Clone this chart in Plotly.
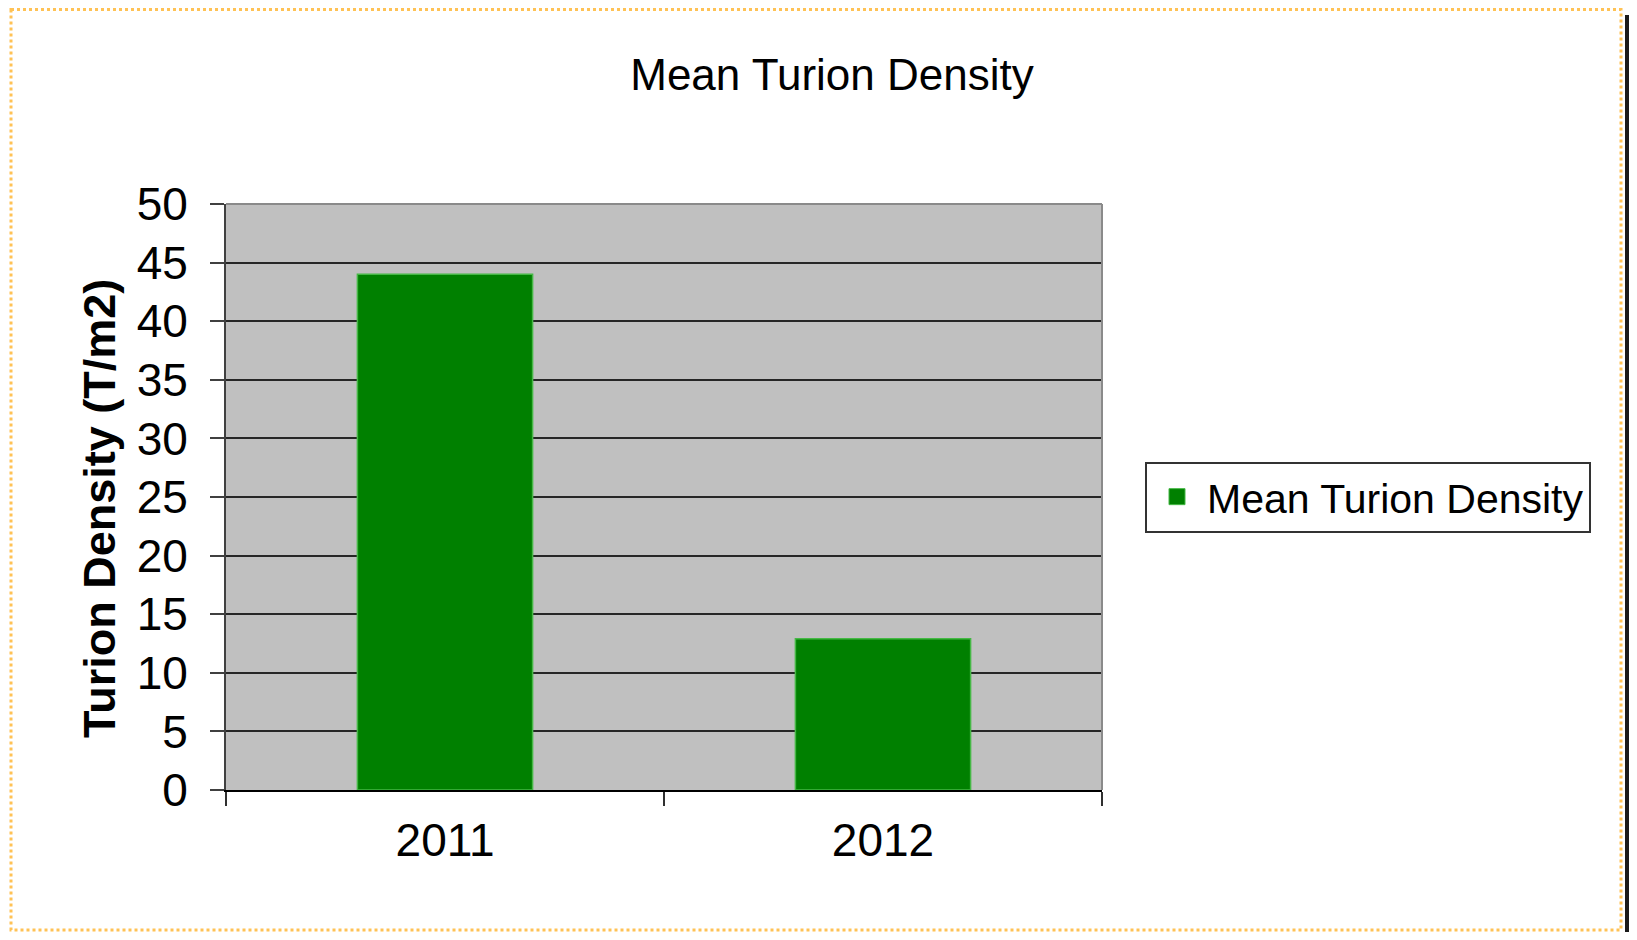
import plotly.graph_objects as go

years = ["2011", "2012"]
density = [44.0, 12.9]
series_name = "Mean Turion Density"
chart_title = "Mean Turion Density"
y_title = "Turion Density (T/m2)"
y_ticks = [0, 5, 10, 15, 20, 25, 30, 35, 40, 45, 50]

FONT = "Arial, Liberation Sans, sans-serif"
GREEN = "#008000"
EDGE = "#45b845"

# the page body adds an 8px margin on each side, so the figure fits inside it
W, H = 1621, 924
L, R, T, B = 218, 527, 196, 142
PW, PH = W - L - R, H - T - B


def px_x(px):
    return (px - L) / PW


def px_y(py):
    return (H - B - py) / PH


fig = go.Figure()
fig.add_trace(go.Bar(
    x=years, y=density, name=series_name, showlegend=False,
    marker=dict(color=GREEN, line=dict(color=EDGE, width=1.5)),
))
# legend entry with a larger square symbol
fig.add_trace(go.Scatter(
    x=[None], y=[None], mode="markers", name=series_name, showlegend=True,
    marker=dict(symbol="square", size=16, color=GREEN, line=dict(color=EDGE, width=1)),
))

shapes = [
    dict(type="line", xref="paper", yref="paper", x0=0, x1=1, y0=1, y1=1,
         line=dict(color="#8a8a8a", width=2), layer="above"),
    dict(type="line", xref="paper", yref="paper", x0=1, x1=1, y0=0, y1=1,
         line=dict(color="#8a8a8a", width=2), layer="above"),
    dict(type="rect", xref="paper", yref="paper",
         x0=px_x(3), x1=px_x(1613), y0=px_y(1.5), y1=px_y(922),
         line=dict(color="#FFC255", width=3, dash="dot"), layer="above"),
    dict(type="line", xref="paper", yref="paper",
         x0=px_x(1619), x1=px_x(1619), y0=px_y(7), y1=px_y(924),
         line=dict(color="#1a1a1a", width=4), layer="above"),
]

fig.update_layout(
    width=W, height=H,
    margin=dict(l=L, r=R, t=T, b=B, pad=0),
    paper_bgcolor="white",
    plot_bgcolor="#C0C0C0",
    font=dict(family=FONT, color="black"),
    title=dict(text=chart_title, x=824 / W, xref="container", xanchor="center",
               y=1 - 67 / H, yref="container", yanchor="middle",
               font=dict(size=44, family=FONT, color="black")),
    bargap=0.6,
    showlegend=True,
    legend=dict(x=px_x(1137), xanchor="left", y=0.5, yanchor="middle",
                bgcolor="white", bordercolor="#333333", borderwidth=2,
                font=dict(size=41, family=FONT, color="black"),
                itemwidth=50, itemsizing="trace"),
    shapes=shapes,
    annotations=[dict(
        text="<b>" + y_title + "</b>", textangle=-90, showarrow=False,
        xref="paper", yref="paper", x=px_x(91), y=px_y(501),
        xanchor="center", yanchor="middle",
        font=dict(size=45, family=FONT, color="black"),
    )],
)

fig.update_xaxes(
    type="category", showgrid=False, showline=True, linecolor="black", linewidth=2,
    ticks="outside", tickson="boundaries", ticklen=14, tickwidth=2, tickcolor="#303030",
    tickfont=dict(size=46, family=FONT, color="black"), ticklabelstandoff=9,
)
fig.update_yaxes(
    range=[0, 50], tickvals=y_ticks, showgrid=True, gridcolor="#262626", gridwidth=2,
    zeroline=False, showline=True, linecolor="#404040", linewidth=2,
    ticks="outside", ticklen=14, tickwidth=2, tickcolor="#404040",
    tickfont=dict(size=46, family=FONT, color="black"), ticklabelstandoff=13,
)

fig.write_html("out.html")
